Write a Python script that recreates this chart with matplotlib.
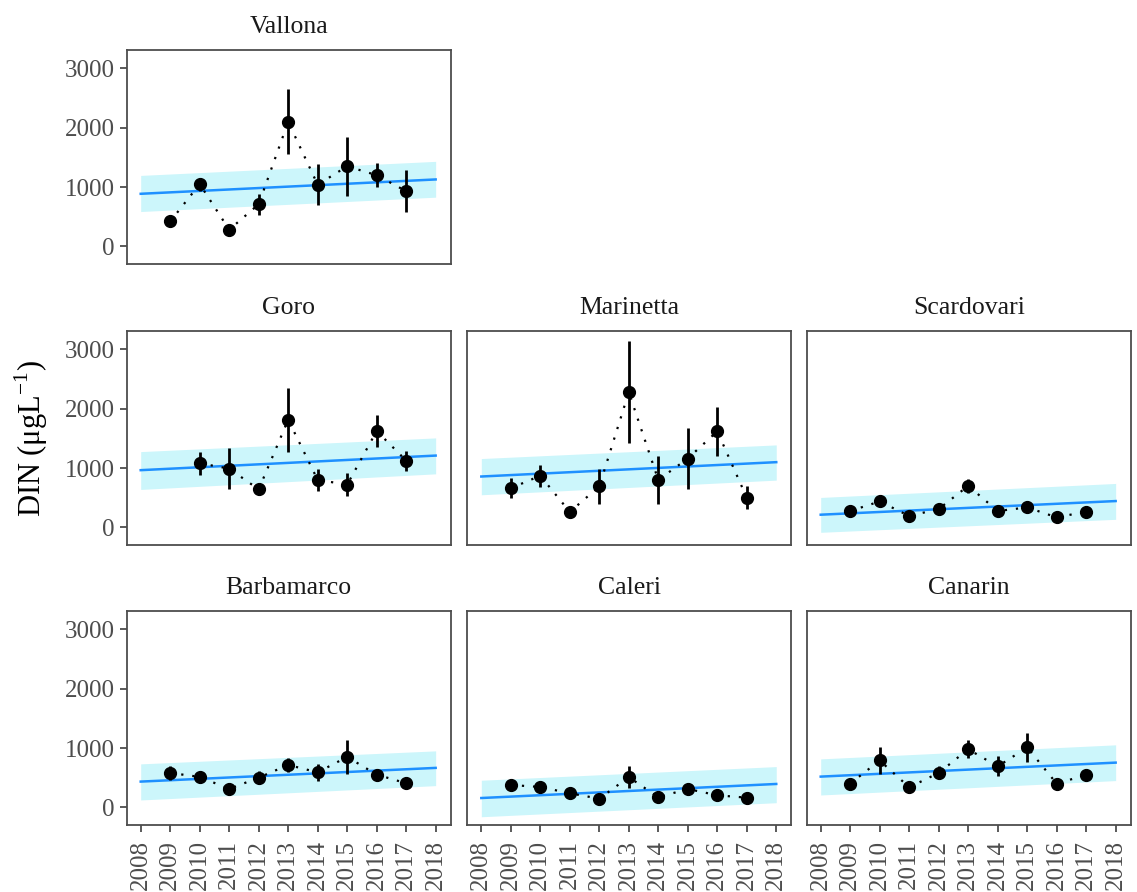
import numpy as np
import matplotlib
matplotlib.use("Agg")
import matplotlib.pyplot as plt

plt.rcParams['font.family'] = ['Liberation Serif', 'DejaVu Serif']
plt.rcParams['mathtext.fontset'] = 'custom'
plt.rcParams['mathtext.rm'] = 'Liberation Serif'

years = [2009, 2010, 2011, 2012, 2013, 2014, 2015, 2016, 2017]
tick_years = list(range(2008, 2019))
y_ticks = [0, 1000, 2000, 3000]

sites = ["Vallona", "Goro", "Marinetta", "Scardovari",
         "Barbamarco", "Caleri", "Canarin"]

# Annual mean DIN and its error (µg/L)
vallona_mean = [420, 1050, 280, 710, 2100, 1040, 1350, 1200, 930]
vallona_err = [40, 110, 30, 175, 550, 350, 500, 200, 350]

goro_mean = [np.nan, 1080, 990, 640, 1815, 800, 720, 1625, 1125]
goro_err = [np.nan, 190, 340, 100, 540, 180, 190, 270, 170]

marinetta_mean = [660, 870, 260, 690, 2280, 800, 1160, 1620, 500]
marinetta_err = [170, 185, 30, 300, 860, 410, 520, 410, 190]

scardovari_mean = [275, 437, 191, 308, 700, 275, 336, 168, 264]
scardovari_err = [40, 40, 40, 40, 120, 40, 40, 30, 40]

barbamarco_mean = [580, 513, 310, 500, 715, 590, 850, 552, 406]
barbamarco_err = [120, 40, 40, 110, 120, 140, 290, 40, 40]

caleri_mean = [377, 343, 237, 146, 510, 169, 310, 203, 163]
caleri_err = [40, 40, 40, 40, 180, 40, 100, 40, 40]

canarin_mean = [400, 790, 338, 580, 980, 690, 1010, 400, 547]
canarin_err = [50, 220, 40, 110, 150, 170, 250, 40, 50]

# Linear trend and confidence band at 2008 and 2018
trend_2008 = [886, 964, 857, 213, 434, 157, 518]
trend_2018 = [1128, 1210, 1099, 443, 665, 394, 754]
band_lo_2008 = [587, 639, 549, -84, 124, -159, 208]
band_hi_2008 = [1196, 1277, 1160, 504, 733, 457, 817]
band_lo_2018 = [829, 902, 796, 135, 366, 78, 451]
band_hi_2018 = [1433, 1508, 1390, 740, 952, 687, 1054]

means = [vallona_mean, goro_mean, marinetta_mean, scardovari_mean,
         barbamarco_mean, caleri_mean, canarin_mean]
errs = [vallona_err, goro_err, marinetta_err, scardovari_err,
        barbamarco_err, caleri_err, canarin_err]

W, H = 1137, 892
fig = plt.figure(figsize=(W / 100, H / 100), dpi=100)

col_left = [126.7, 467.3, 806.7]
panel_w = 324.0
row_top = [50.0, 331.0, 611.0]
panel_h = 214.0

# (row, col) for each site
layout = [(0, 0), (1, 0), (1, 1), (1, 2), (2, 0), (2, 1), (2, 2)]

edge_col = '#4D4D4D'
tick_col = '#4D4D4D'
line_blue = '#1E90FF'
band_col = '#CCF6FB'

for i, name in enumerate(sites):
    r, c = layout[i]
    left = col_left[c] / W
    bottom = 1 - (row_top[r] + panel_h) / H
    ax = fig.add_axes([left, bottom, panel_w / W, panel_h / H])

    xs = [2008, 2018]
    ax.fill_between(xs, [band_lo_2008[i], band_lo_2018[i]],
                    [band_hi_2008[i], band_hi_2018[i]],
                    color=band_col, linewidth=0, zorder=1)
    ax.plot(xs, [trend_2008[i], trend_2018[i]], color=line_blue,
            linewidth=1.8, zorder=2)

    m = np.array(means[i], dtype=float)
    e = np.array(errs[i], dtype=float)
    yr = np.array(years, dtype=float)
    ok = ~np.isnan(m)
    ax.plot(yr[ok], m[ok], linestyle=(0, (1, 4)), color='black',
            linewidth=1.6, zorder=3)
    ax.errorbar(yr[ok], m[ok], yerr=e[ok], fmt='o', color='black',
                markersize=8.5, elinewidth=2.0, capsize=0, zorder=4)

    ax.set_xlim(2007.525, 2018.51)
    ax.set_ylim(-298, 3311)
    ax.set_title(name, fontsize=18.5, color='#1A1A1A', pad=12)

    for sp in ax.spines.values():
        sp.set_color(edge_col)
        sp.set_linewidth(1.3)

    ax.set_yticks(y_ticks)
    ax.set_xticks(tick_years)
    ax.tick_params(axis='both', colors=tick_col, width=1.3, length=5,
                   labelsize=18, labelcolor='#4D4D4D')
    ax.tick_params(axis='x', pad=6)
    if c == 0:
        ax.set_yticklabels([str(v) for v in y_ticks])
    else:
        ax.tick_params(axis='y', left=False, labelleft=False)
    if r == 2:
        ax.set_xticklabels([str(v) for v in tick_years], rotation=90)
    else:
        ax.tick_params(axis='x', bottom=False, labelbottom=False)

fig.text(31 / W, 1 - 439 / H, r'DIN (μgL$^{\mathrm{-1}}$)',
         rotation=90, fontsize=22, ha='center', va='center', color='black')

fig.savefig('out.png', dpi=100)
